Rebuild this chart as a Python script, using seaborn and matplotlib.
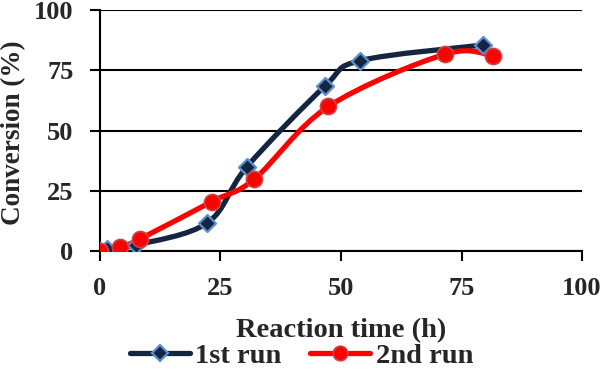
import numpy as np
import matplotlib
matplotlib.use("Agg")
import matplotlib.pyplot as plt
import seaborn as sns
from matplotlib.path import Path
from matplotlib.patches import PathPatch
from matplotlib.lines import Line2D

# values
run1_time = [0, 1.5, 7.5, 22.3, 30.5, 46.7, 54.0, 79.5]
run1_conv = [0, 1.0, 2.5, 11.7, 35.0, 68.5, 79.0, 85.5]
run2_time = [0, 4.1, 8.2, 23.2, 32.0, 47.4, 71.6, 81.6]
run2_conv = [0, 1.5, 4.9, 20.5, 29.8, 60.0, 81.7, 81.0]

sns.set_theme(style="white")
plt.rcParams['font.family'] = ['Liberation Serif', 'DejaVu Serif']
plt.rcParams['font.weight'] = 'bold'

navy = '#14263f'
red = '#ff0000'


def smooth_path(xs, ys):
    # Excel-style smoothed line: cubic bezier through the points
    pts = np.column_stack([xs, ys])
    verts = [tuple(pts[0])]
    codes = [Path.MOVETO]
    n = len(pts)
    for i in range(n - 1):
        p0 = pts[i - 1] if i > 0 else pts[i]
        p1 = pts[i]
        p2 = pts[i + 1]
        p3 = pts[i + 2] if i + 2 < n else pts[i + 1]
        c1 = p1 + (p2 - p0) / 6.0
        c2 = p2 - (p3 - p1) / 6.0
        verts += [tuple(c1), tuple(c2), tuple(p2)]
        codes += [Path.CURVE4] * 3
    return Path(verts, codes)


fig = plt.figure(figsize=(6.03, 3.72), dpi=100)
ax = fig.add_axes([0.1658, 0.3253, 0.7994, 0.6477])

ax.add_patch(PathPatch(smooth_path(run1_time, run1_conv), fill=False,
                       edgecolor=navy, lw=3.8, capstyle='round', zorder=3))
ax.add_patch(PathPatch(smooth_path(run2_time, run2_conv), fill=False,
                       edgecolor=red, lw=3.8, capstyle='round', zorder=4))

sns.scatterplot(x=run1_time, y=run1_conv, ax=ax, marker='D', s=75,
                color=navy, edgecolor='#5b8fd0', linewidth=1.6, zorder=5)
sns.scatterplot(x=run2_time, y=run2_conv, ax=ax, marker='o', s=135,
                color=red, edgecolor='#c84848', linewidth=1.2, zorder=6)

ax.set_xlim(0, 100)
ax.set_ylim(0, 100)
ax.set_xticks([0, 25, 50, 75, 100])
ax.set_yticks([0, 25, 50, 75, 100])
ax.yaxis.grid(True, color='black', lw=1.5)
ax.xaxis.grid(False)
ax.set_axisbelow(True)
for s in ['top', 'right']:
    ax.spines[s].set_visible(False)
for s in ['left', 'bottom']:
    ax.spines[s].set_color('black')
    ax.spines[s].set_linewidth(1.5)
ax.tick_params(axis='both', direction='out', length=7, width=1.5,
               color='black', labelsize=19, bottom=True, left=True)
ax.tick_params(axis='x', pad=12)
ax.tick_params(axis='y', pad=12)
for lab in ax.get_xticklabels() + ax.get_yticklabels():
    lab.set_fontweight('bold')

ax.set_xlabel('Reaction time (h)', fontsize=20.5, fontweight='bold', va='center')
ax.set_ylabel('Conversion (%)', fontsize=19.5, fontweight='bold', va='center')
ax.xaxis.set_label_coords(0.5, -0.33)
ax.yaxis.set_label_coords(-0.18, 0.49)

handles = [
    Line2D([], [], color=navy, lw=3.8, marker='D', markersize=8,
           markerfacecolor=navy, markeredgecolor='#5b8fd0', markeredgewidth=1.6),
    Line2D([], [], color=red, lw=3.8, marker='o', markersize=10.5,
           markerfacecolor=red, markeredgecolor='#c84848', markeredgewidth=1.2),
]
fig.legend(handles, ['1st run', '2nd run'], loc='center', ncol=2,
           bbox_to_anchor=(0.5, 0.043), frameon=False, handlelength=2.1,
           columnspacing=1.0, handletextpad=0.2,
           prop={'size': 20.5, 'weight': 'bold'})

fig.savefig('out.png', dpi=100)
